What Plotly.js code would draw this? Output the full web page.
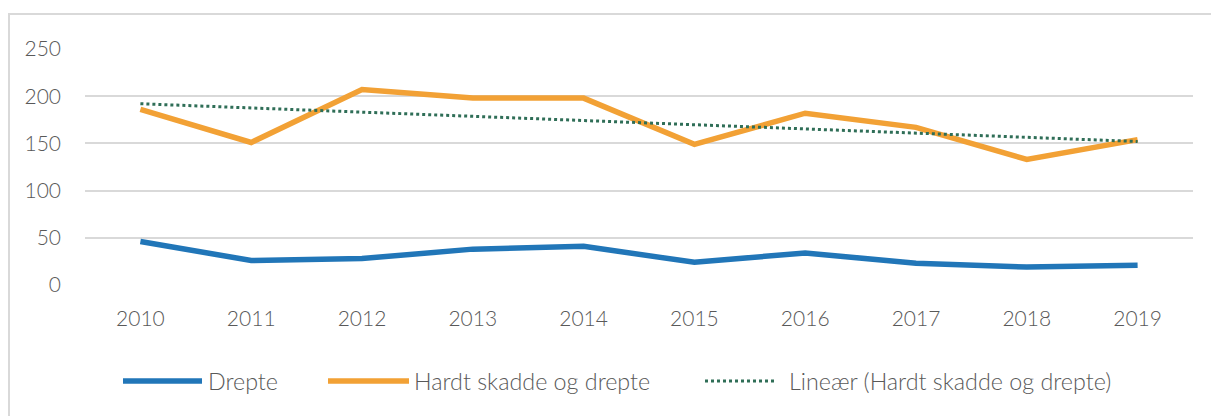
<!DOCTYPE html>
<html>
<head>
<meta charset="utf-8">
<script src="https://cdn.plot.ly/plotly-3.0.1.min.js"></script>
<style>
  html, body { margin: 0; padding: 0; background: #fff; }
  #wrap { position: relative; width: 1211px; height: 416px; overflow: hidden; }
  #chart { width: 1211px; height: 416px; }
  #frame { position: absolute; left: 8px; top: 13px; width: 1220px; height: 420px;
           border-top: 2px solid #d9d9d9; border-left: 2px solid #d9d9d9; pointer-events: none; }
</style>
</head>
<body>
<div id="wrap">
  <div id="chart"></div>
  <div id="frame"></div>
</div>
<script>
// ---- data ----
const years = ['2010','2011','2012','2013','2014','2015','2016','2017','2018','2019'];
const drepte = [46, 26, 28, 38, 41, 24, 34, 23, 19, 21];
const hardtSkadde = [186, 151, 207, 198, 198, 149, 182, 167, 133, 154];
const trendYears = ['2010', '2019'];
const trendValues = [192, 152];
const yTicks = [0, 50, 100, 150, 200, 250];
const seriesNames = ['Drepte', 'Hardt skadde og drepte', 'Lineær (Hardt skadde og drepte)'];

// ---- style ----
const blue = '#2176b8';
const orange = '#f2a135';
const green = '#2f6e57';
const textColor = '#595959';
const fontFam = 'Lato, "Open Sans", sans-serif';

const traces = [
  { x: years, y: drepte, type: 'scatter', mode: 'lines', name: seriesNames[0],
    line: { color: blue, width: 5.5 }, showlegend: false },
  { x: years, y: hardtSkadde, type: 'scatter', mode: 'lines', name: seriesNames[1],
    line: { color: orange, width: 5.5 }, showlegend: false },
  { x: trendYears, y: trendValues, type: 'scatter', mode: 'lines', name: seriesNames[2],
    line: { color: green, width: 3, dash: 'dot' }, showlegend: false }
];

// plot area pixel box: x 85..1193, y 49..285
const L = 85, R = 1193, T = 49, B = 285;
const px = v => (v - L) / (R - L);
const py = v => (B - v) / (B - T);
const legY = 381;

const shapes = [
  { type: 'line', xref: 'paper', yref: 'paper', x0: px(123), x1: px(202), y0: py(legY), y1: py(legY),
    line: { color: blue, width: 5.5 } },
  { type: 'line', xref: 'paper', yref: 'paper', x0: px(328), x1: px(409), y0: py(legY), y1: py(legY),
    line: { color: orange, width: 5.5 } },
  { type: 'line', xref: 'paper', yref: 'paper', x0: px(705), x1: px(775), y0: py(legY), y1: py(legY),
    line: { color: green, width: 3, dash: 'dot' } }
];

const annFont = { family: fontFam, size: 23.3, color: textColor, weight: 300 };
const annotations = [
  { text: seriesNames[0], x: px(206), y: py(legY), xref: 'paper', yref: 'paper',
    xanchor: 'left', yanchor: 'middle', showarrow: false, font: annFont },
  { text: seriesNames[1], x: px(412), y: py(legY), xref: 'paper', yref: 'paper',
    xanchor: 'left', yanchor: 'middle', showarrow: false, font: annFont },
  { text: seriesNames[2], x: px(787), y: py(legY), xref: 'paper', yref: 'paper',
    xanchor: 'left', yanchor: 'middle', showarrow: false, font: annFont }
];

const tickFont = { family: fontFam, size: 21, color: textColor, weight: 300 };

const layout = {
  width: 1211, height: 416,
  margin: { l: L, r: 1211 - R, t: T, b: 416 - B, pad: 0 },
  paper_bgcolor: '#ffffff', plot_bgcolor: '#ffffff',
  font: { family: fontFam, size: 21, color: textColor },
  showlegend: false,
  xaxis: {
    type: 'category', categoryorder: 'array', categoryarray: years,
    range: [-0.5, 9.5], showgrid: false, zeroline: false, showline: false,
    ticks: '', tickfont: tickFont,
    ticklabelstandoff: 19, fixedrange: true
  },
  yaxis: {
    range: [0, 250], tickvals: yTicks, ticktext: yTicks.map(String),
    showgrid: true, gridcolor: '#d9d9d9', gridwidth: 2, zeroline: false, showline: false,
    ticks: '', tickfont: tickFont,
    ticklabelstandoff: 23, fixedrange: true
  },
  shapes: shapes,
  annotations: annotations
};

Plotly.newPlot('chart', traces, layout, { displayModeBar: false, staticPlot: true });
</script>
</body>
</html>
